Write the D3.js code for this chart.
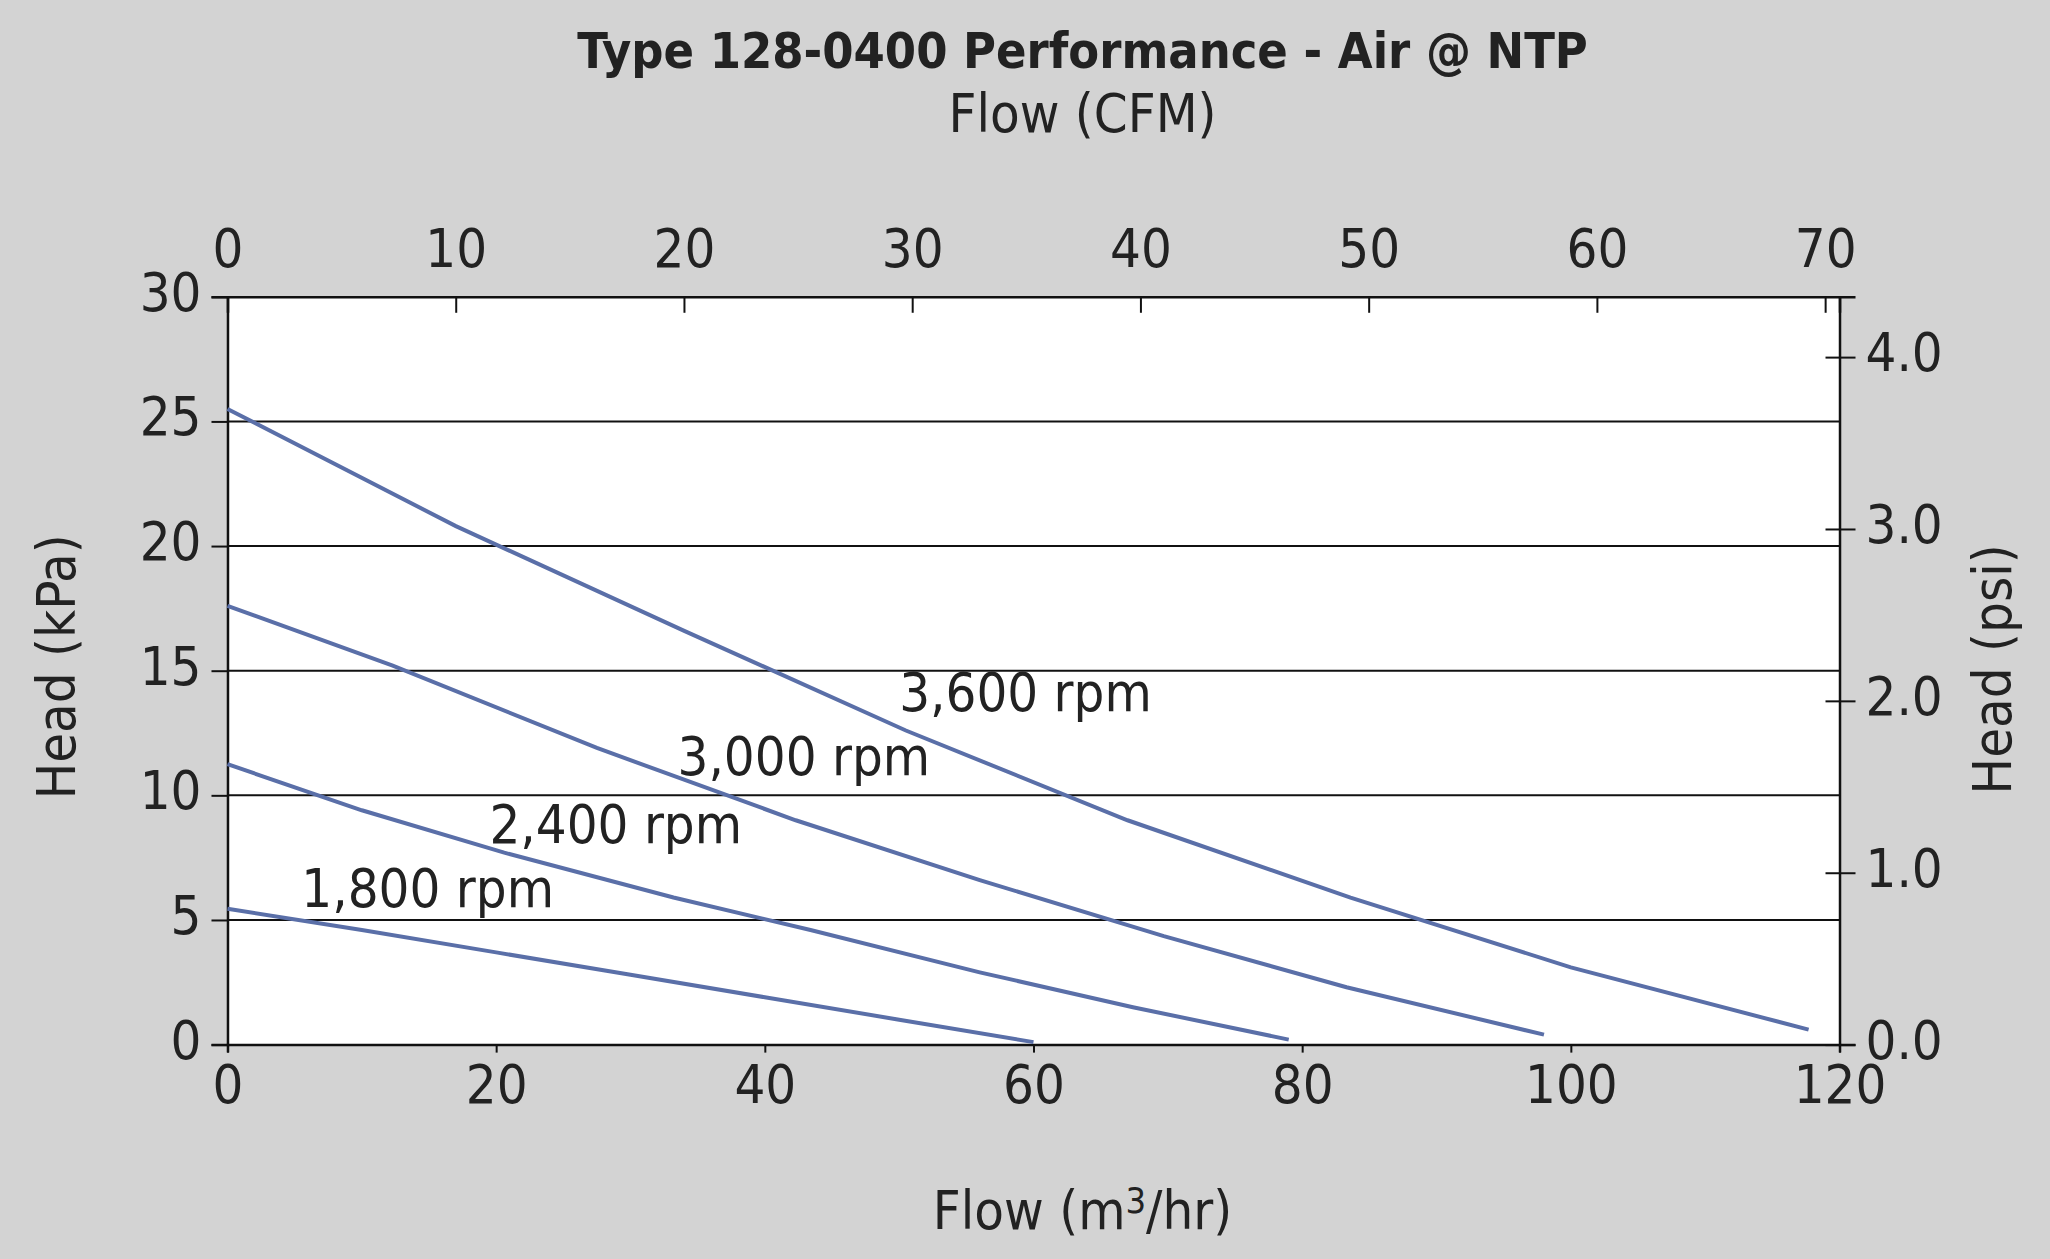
<!DOCTYPE html>
<html><head><meta charset="utf-8">
<script src="https://cdn.jsdelivr.net/npm/d3@7"></script>
<style>
body{margin:0;background:#d3d3d3;}
text{font-family:"Liberation Sans Narrow","DejaVu Sans Condensed",sans-serif;fill:#222;}
</style></head><body>
<script>
// Curve data: flow (m3/hr) vs head (kPa)
var rpmLabels = ["1,800 rpm", "2,400 rpm", "3,000 rpm", "3,600 rpm"];
var flow1800 = [0, 10, 20, 30, 40, 50, 60];
var head1800 = [5.45, 4.6, 3.7, 2.8, 1.9, 1.0, 0.1];
var flow2400 = [0, 10, 20.6, 33.2, 43.4, 56, 67.4, 79];
var head2400 = [11.25, 9.4, 7.7, 5.9, 4.6, 2.9, 1.5, 0.2];
var flow3000 = [0, 12.3, 27.5, 42.3, 56, 69.7, 83.3, 98];
var head3000 = [17.6, 15.2, 11.9, 9.0, 6.6, 4.35, 2.3, 0.4];
var flow3600 = [0, 17, 34, 50.5, 67, 83.6, 100, 117.7];
var head3600 = [25.5, 20.8, 16.6, 12.6, 9.0, 5.9, 3.1, 0.6];
var labelFlow = [5.5, 19.5, 33.5, 50];   // label anchor positions
var labelHead = [5.5, 8.1, 10.8, 13.4];

var bottomTicks = [0, 20, 40, 60, 80, 100, 120];
var topTicks = [0, 10, 20, 30, 40, 50, 60, 70];
var leftTicks = [0, 5, 10, 15, 20, 25, 30];
var rightTicks = [0, 1, 2, 3, 4];

var s = 2050 / 1568;
var svgWidth = 2050, svgHeight = 1259;
var margin = {top: 227 * s, left: 174 * s, right: 1568 * s - 1407 * s, bottom: 1259 - 799 * s};
var width = svgWidth - margin.left - margin.right;
var height = svgHeight - margin.top - margin.bottom;

var svg = d3.select("body").append("svg").attr("width", svgWidth).attr("height", svgHeight);
var g = svg.append("g").attr("transform", `translate(${margin.left}, ${margin.top})`);

var x = d3.scaleLinear().domain([0, 120]).range([0, width]);
var xTop = d3.scaleLinear().domain([0, 120 / 1.699]).range([0, width]);
var y = d3.scaleLinear().domain([0, 30]).range([height, 0]);
var yPsi = d3.scaleLinear().domain([0, 30 / 6.895]).range([height, 0]);

g.append("rect").attr("width", width).attr("height", height).attr("fill", "#fff");

// gridlines
g.selectAll(".grid").data(leftTicks.slice(1, -1)).enter().append("line")
  .attr("x1", 0).attr("x2", width).attr("y1", d => y(d)).attr("y2", d => y(d))
  .attr("stroke", "#111").attr("stroke-width", 2);

var fs = 54;
function styleAxis(a) {
  a.select(".domain").attr("stroke", "#111").attr("stroke-width", 2.5);
  a.selectAll(".tick line").attr("stroke", "#111").attr("stroke-width", 2);
  a.selectAll("text").style("font-size", fs + "px").style("font-family", null).attr("fill", "#222");
}
var ax;
ax = g.append("g").attr("transform", `translate(0,${height})`)
  .call(d3.axisBottom(x).tickValues(bottomTicks).tickSize(8).tickPadding(12)); styleAxis(ax);
ax = g.append("g").call(d3.axisTop(xTop).tickValues(topTicks).tickSize(-16).tickPadding(30)); styleAxis(ax);
ax.selectAll(".tick line").attr("y2", 16);
ax = g.append("g").call(d3.axisLeft(y).tickValues(leftTicks).tickSize(16).tickPadding(10)); styleAxis(ax);
ax.selectAll("text").attr("dy", "0.25em");
ax = g.append("g").attr("transform", `translate(${width},0)`)
  .call(d3.axisRight(yPsi).tickValues(rightTicks).tickSize(16).tickPadding(10)); styleAxis(ax);
ax.selectAll(".tick line").attr("x1", -14);
ax.selectAll("text").attr("dy", "0.25em");

// curves
var series = [[flow1800, head1800], [flow2400, head2400], [flow3000, head3000], [flow3600, head3600]];
var line = d3.line().x(d => x(d[0])).y(d => y(d[1]));
series.forEach(function(sr, i) {
  var pts = sr[0].map((f, j) => [f, sr[1][j]]);
  g.append("path").datum(pts).attr("d", line).attr("fill", "none")
    .attr("stroke", "#5a6fa8").attr("stroke-width", 4);
  g.append("text").attr("x", x(labelFlow[i])).attr("y", y(labelHead[i]))
    .style("font-size", fs + "px").text(rpmLabels[i]);
});

// titles
svg.append("text").attr("x", 828 * s).attr("y", 52 * s).attr("text-anchor", "middle")
  .style("font-size", "50px").style("font-weight", "bold").text("Type 128-0400 Performance - Air @ NTP");
svg.append("text").attr("x", 828 * s).attr("y", 101 * s).attr("text-anchor", "middle")
  .style("font-size", fs + "px").text("Flow (CFM)");
var xl = svg.append("text").attr("x", 828 * s).attr("y", 940 * s).attr("text-anchor", "middle")
  .style("font-size", fs + "px");
xl.append("tspan").text("Flow (m");
xl.append("tspan").attr("dy", -16).style("font-size", "36px").text("3");
xl.append("tspan").attr("dy", 16).text("/hr)");
svg.append("text").attr("transform", `translate(${57 * s},${510 * s}) rotate(-90)`).attr("text-anchor", "middle")
  .style("font-size", fs + "px").text("Head (kPa)");
svg.append("text").attr("transform", `translate(${1538 * s},${512 * s}) rotate(-90)`).attr("text-anchor", "middle")
  .style("font-size", fs + "px").text("Head (psi)");
</script>
</body></html>
